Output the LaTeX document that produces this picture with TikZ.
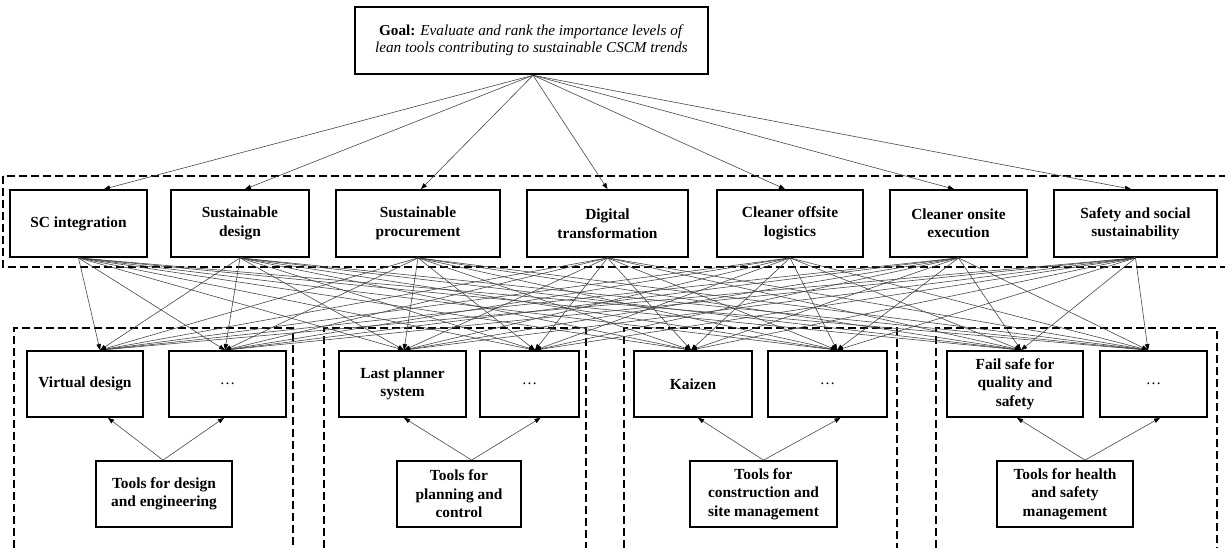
\documentclass[tikz,border=0pt]{standalone}
\usepackage{fontspec}
\setmainfont{Liberation Serif}
\usetikzlibrary{arrows.meta}
\begin{document}
\begin{tikzpicture}[x=1pt,y=-1pt,
  box/.style={draw, line width=1.8pt, align=center, inner sep=2pt, font=\fontsize{15.4}{18.5}\selectfont\bfseries},
  crit/.style={box, minimum height=67pt},
  tool/.style={box, minimum height=66pt},
  cat/.style={box, minimum height=66pt},
  goalbox/.style={draw, line width=2.6pt, align=center, minimum width=353pt, minimum height=67pt, inner sep=2pt, font=\fontsize{15.2}{17.5}\selectfont},
  link/.style={draw=black!72, line width=0.6pt, -{Triangle[length=6pt,width=4.5pt,color=black]}},
  grp/.style={draw, line width=1.5pt, dash pattern=on 8pt off 4pt}
]
\useasboundingbox (0,0) rectangle (1225,548);
\clip (0,0) rectangle (1225,548);

% goal
\node[goalbox] (goal) at (531.5,40.5) {\textbf{Goal:} \textit{Evaluate and rank the importance levels of}\\\textit{lean tools contributing to sustainable CSCM trends}};

% criteria
\node[crit, minimum width=137pt] (sc)  at (78.5,223.5)  {SC integration};
\node[crit, minimum width=138pt] (sd)  at (240,223.5)   {Sustainable\\design};
\node[crit, minimum width=164pt] (sp)  at (418,223.5)   {Sustainable\\procurement};
\node[crit, minimum width=161pt] (dt)  at (607.5,223.5) {Digital\\transformation};
\node[crit, minimum width=146pt] (col) at (790,223.5)   {Cleaner offsite\\logistics};
\node[crit, minimum width=137pt] (coe) at (958.5,223.5) {Cleaner onsite\\execution};
\node[crit, minimum width=163pt] (sss) at (1135.5,223.5){Safety and social\\sustainability};

% tools
\node[tool, minimum width=116pt] (vd) at (85,384)     {Virtual design};
\node[tool, minimum width=117pt] (da) at (227.5,384)  {\textmd{\dots}};
\node[tool, minimum width=127pt] (lp) at (402.5,384)  {Last planner\\system};
\node[tool, minimum width=99pt]  (db) at (529.5,384)  {\textmd{\dots}};
\node[tool, minimum width=118pt] (kz) at (693,384)    {Kaizen};
\node[tool, minimum width=119pt] (dc) at (827.5,384)  {\textmd{\dots}};
\node[tool, minimum width=136pt] (fs) at (1015,384)   {Fail safe for\\quality and\\safety};
\node[tool, minimum width=107pt] (dd) at (1153.5,384) {\textmd{\dots}};

% categories
\node[cat, minimum width=136pt] (ca) at (164,494)    {Tools for design\\and engineering};
\node[cat, minimum width=124pt] (cb) at (459,494)    {Tools for\\planning and\\control};
\node[cat, minimum width=147pt] (cc) at (763.5,494)  {Tools for\\construction and\\site management};
\node[cat, minimum width=136pt] (cd) at (1065,494)   {Tools for health\\and safety\\management};

% dashed frames
\draw[grp] (3,176) rectangle (1232,267);
\draw[grp] (14,560) -- (14,328) -- (293,328) -- (293,560);
\draw[grp] (324,560) -- (324,328) -- (586,328) -- (586,560);
\draw[grp] (624,560) -- (624,328) -- (897,328) -- (897,560);
\draw[grp] (936,560) -- (936,328) -- (1217,328) -- (1217,560);

% goal -> criteria
\foreach \c/\dx in {sc/25.5, sd/5, sp/3, dt/0, col/-5, coe/-4.5, sss/-4.5}
  \draw[link] ([xshift=1.5pt]goal.south) -- ([xshift=\dx pt]\c.north);

% criteria -> tools
\foreach \c in {sc, sd, sp, dt, col, coe, sss}
  \foreach \t/\dx in {vd/15, da/-2.5, lp/1.5, db/5.5, kz/-2, dc/9.5, fs/6, dd/-5.5}
    \draw[link] (\c.south) -- ([xshift=\dx pt]\t.north);

% categories -> tools
\draw[link] ([xshift=-1pt]ca.north) -- ([xshift=23pt]vd.south);
\draw[link] ([xshift=-1pt]ca.north) -- ([xshift=-3.5pt]da.south);
\draw[link] ([xshift=12.7pt]cb.north) -- ([xshift=1.5pt]lp.south);
\draw[link] ([xshift=12.7pt]cb.north) -- ([xshift=11pt]db.south);
\draw[link] ([xshift=0pt]cc.north) -- ([xshift=5pt]kz.south);
\draw[link] ([xshift=0pt]cc.north) -- ([xshift=13pt]dc.south);
\draw[link] ([xshift=20pt]cd.north) -- ([xshift=2pt]fs.south);
\draw[link] ([xshift=20pt]cd.north) -- ([xshift=6.5pt]dd.south);
\end{tikzpicture}
\end{document}
